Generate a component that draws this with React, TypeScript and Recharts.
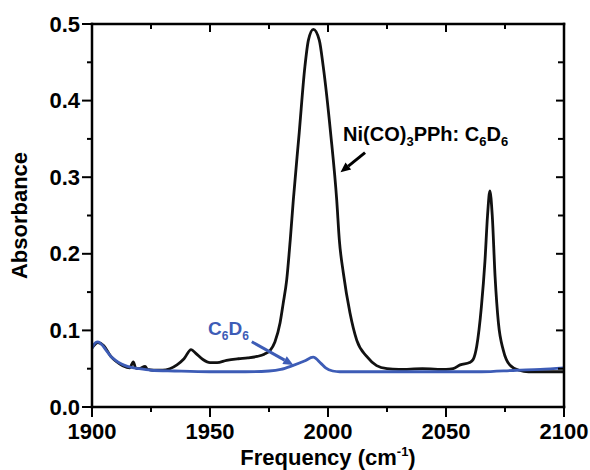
import React from 'react';
import { LineChart, Line, XAxis, YAxis, ReferenceDot, ReferenceLine } from 'recharts';

const FONT = '"Liberation Sans", Arial, Helvetica, sans-serif';
const BLUE = '#3d5cb6';
const BLACK = '#111111';

const xTicks = [1900, 1925, 1950, 1975, 2000, 2025, 2050, 2075, 2100];
const yTicks = [0, 0.05, 0.1, 0.15, 0.2, 0.25, 0.3, 0.35, 0.4, 0.45, 0.5];

const blackFreq = [
  1900, 1902.5, 1905, 1908, 1910, 1913, 1916, 1917.5, 1918.5, 1920, 1922.5, 1923.5, 1926, 1930,
  1933, 1936, 1939, 1942, 1944, 1947, 1950, 1953, 1957, 1962, 1966, 1970, 1973, 1975.5, 1977.5,
  1979.7, 1981, 1982.5, 1984, 1985.3, 1987.8, 1990.2, 1991.7, 1993.8, 1996.3, 1998, 2001.1,
  2003.7, 2004.8, 2006.5, 2009.3, 2012.2, 2016.4, 2020.6, 2025, 2030, 2040, 2050, 2053, 2056,
  2060, 2061.5, 2063, 2065, 2066.5, 2067.6, 2068.6, 2069.6, 2070.8, 2072.2, 2074.3, 2077, 2081,
  2085, 2100,
];
const blackAbs = [
  0.077, 0.084, 0.08, 0.066, 0.06, 0.054, 0.051, 0.059, 0.051, 0.05, 0.053, 0.049, 0.048, 0.048,
  0.05, 0.055, 0.063, 0.075, 0.07, 0.062, 0.058, 0.058, 0.061, 0.063, 0.064, 0.066, 0.069, 0.074,
  0.085, 0.11, 0.135, 0.166, 0.218, 0.27, 0.358, 0.444, 0.479, 0.493, 0.479, 0.444, 0.358, 0.27,
  0.218, 0.175, 0.123, 0.087, 0.066, 0.054, 0.05, 0.049, 0.05, 0.049, 0.05, 0.055, 0.058, 0.062,
  0.079, 0.131, 0.19, 0.25, 0.282, 0.25, 0.17, 0.11, 0.074, 0.055, 0.048, 0.046, 0.046,
];

const blueFreq = [
  1900, 1901.5, 1902.5, 1904, 1906, 1908, 1910, 1912.5, 1915, 1920, 1925, 1935, 1950, 1965, 1975,
  1980, 1985, 1990, 1993.7, 1997, 1999, 2002, 2005, 2015, 2030, 2050, 2065, 2080, 2090, 2100,
];
const blueAbs = [
  0.077, 0.084, 0.085, 0.082, 0.074, 0.066, 0.061, 0.056, 0.053, 0.05, 0.048, 0.047, 0.046, 0.046,
  0.047, 0.049, 0.054, 0.06, 0.065, 0.057, 0.051, 0.047, 0.046, 0.046, 0.046, 0.046, 0.046, 0.048,
  0.049, 0.051,
];

// annotation anchors in data coordinates
const niLabelPos = { x: 2006.4, y: 0.3477 };
const niArrow = [{ x: 2015.7, y: 0.332 }, { x: 2005.3, y: 0.3064 }];
const c6LabelPos = { x: 1949.2, y: 0.094 };
const c6Arrow = [{ x: 1967.7, y: 0.0852 }, { x: 1985.3, y: 0.0548 }];

const blackData = blackFreq.map((x, i) => ({ x, y: blackAbs[i] }));
const blueData = blueFreq.map((x, i) => ({ x, y: blueAbs[i] }));

const isMajorX = (v: number) => Math.abs(v % 50) < 1e-6;
const isMajorY = (v: number) => Math.round(v * 100) % 10 === 0;

const BottomTick = (p: any) => {
  const { x, y, payload } = p;
  const v = payload.value;
  const major = isMajorX(v);
  return (
    <g>
      <line x1={x} x2={x} y1={y} y2={y + (major ? 10 : 5)} stroke="#000" strokeWidth={2} />
      {major && (
        <text x={x} y={y + 32} textAnchor="middle" fontSize={22} fontWeight="bold" fontFamily={FONT} fill="#000">
          {v}
        </text>
      )}
    </g>
  );
};

const TopTick = (p: any) => {
  const { x, y, payload } = p;
  const major = isMajorX(payload.value);
  return <line x1={x} x2={x} y1={y} y2={y + (major ? 8 : 5)} stroke="#000" strokeWidth={2} />;
};

const LeftTick = (p: any) => {
  const { x, y, payload } = p;
  const v = payload.value;
  const major = isMajorY(v);
  return (
    <g>
      <line x1={x} x2={x - (major ? 10 : 5)} y1={y} y2={y} stroke="#000" strokeWidth={2} />
      {major && (
        <text x={x - 12} y={y} textAnchor="end" dominantBaseline="central" fontSize={22} fontWeight="bold" fontFamily={FONT} fill="#000">
          {v.toFixed(1)}
        </text>
      )}
    </g>
  );
};

const RightTick = (p: any) => {
  const { x, y, payload } = p;
  const major = isMajorY(payload.value);
  return <line x1={x} x2={x - (major ? 8 : 6)} y1={y} y2={y} stroke="#000" strokeWidth={2} />;
};

const Arrow = (color: string, width: number) => (p: any) => {
  const { x1, y1, x2, y2 } = p;
  const dx = x2 - x1;
  const dy = y2 - y1;
  const len = Math.sqrt(dx * dx + dy * dy) || 1;
  const ux = dx / len;
  const uy = dy / len;
  const hl = 10;
  const hw = 4.5;
  const bx = x2 - ux * hl;
  const by = y2 - uy * hl;
  const pts = `${x2},${y2} ${bx - uy * hw},${by + ux * hw} ${bx + uy * hw},${by - ux * hw}`;
  return (
    <g>
      <line x1={x1} y1={y1} x2={bx} y2={by} stroke={color} strokeWidth={width} />
      <polygon points={pts} fill={color} />
    </g>
  );
};

const NiLabel = (p: any) => (
  <text x={p.cx} y={p.cy} fontSize={20} fontWeight="bold" fontFamily={FONT} fill="#000">
    Ni(CO)
    <tspan fontSize={13} dy={5}>3</tspan>
    <tspan dy={-5}>PPh: C</tspan>
    <tspan fontSize={13} dy={5}>6</tspan>
    <tspan dy={-5}>D</tspan>
    <tspan fontSize={13} dy={5}>6</tspan>
  </text>
);

const C6Label = (p: any) => (
  <text x={p.cx} y={p.cy} fontSize={19} fontWeight="bold" fontFamily={FONT} fill={BLUE}>
    C
    <tspan fontSize={12} dy={5}>6</tspan>
    <tspan dy={-5}>D</tspan>
    <tspan fontSize={12} dy={5}>6</tspan>
  </text>
);

const XTitle = (p: any) => {
  const vb = p.viewBox || {};
  const cx = vb.x + vb.width / 2;
  return (
    <text x={cx} y={vb.y + 58} textAnchor="middle" fontSize={22} fontWeight="bold" fontFamily={FONT} fill="#000">
      Frequency (cm
      <tspan fontSize={13} dy={-9}>-1</tspan>
      <tspan dy={9}>)</tspan>
    </text>
  );
};

const YTitle = (p: any) => {
  const vb = p.viewBox || {};
  const cy = vb.y + vb.height / 2;
  const cx = 19;
  return (
    <text
      x={cx}
      y={cy}
      transform={`rotate(-90, ${cx}, ${cy})`}
      textAnchor="middle"
      dominantBaseline="central"
      fontSize={22}
      fontWeight="bold"
      fontFamily={FONT}
      fill="#000"
    >
      Absorbance
    </text>
  );
};

const axisLine = { stroke: '#000', strokeWidth: 2.5, strokeLinecap: 'square' as const };

export default function App() {
  return (
    <div style={{ width: 590, height: 470, background: '#fff' }}>
      <style>{'body{margin:0;background:#fff}'}</style>
      <LineChart width={590} height={470} margin={{ top: 0, right: 0, bottom: 0, left: 0 }}>
        <XAxis
          xAxisId="b"
          dataKey="x"
          type="number"
          domain={[1900, 2100]}
          ticks={xTicks}
          interval={0}
          height={63}
          tickSize={0}
          tickMargin={0}
          tickLine={false}
          axisLine={axisLine}
          tick={BottomTick}
          label={{ content: XTitle }}
          allowDataOverflow
        />
        <XAxis
          xAxisId="t"
          orientation="top"
          dataKey="x"
          type="number"
          domain={[1900, 2100]}
          ticks={xTicks}
          interval={0}
          height={24}
          tickSize={0}
          tickMargin={0}
          tickLine={false}
          axisLine={axisLine}
          tick={TopTick}
          allowDataOverflow
        />
        <YAxis
          yAxisId="l"
          type="number"
          domain={[0, 0.5]}
          ticks={yTicks}
          interval={0}
          width={92}
          tickSize={0}
          tickMargin={0}
          tickLine={false}
          axisLine={axisLine}
          tick={LeftTick}
          label={{ content: YTitle }}
          allowDataOverflow
        />
        <YAxis
          yAxisId="r"
          orientation="right"
          type="number"
          domain={[0, 0.5]}
          ticks={yTicks}
          interval={0}
          width={26}
          tickSize={0}
          tickMargin={0}
          tickLine={false}
          axisLine={axisLine}
          tick={RightTick}
          allowDataOverflow
        />
        <Line
          xAxisId="b"
          yAxisId="l"
          data={blackData}
          dataKey="y"
          type="monotone"
          stroke={BLACK}
          strokeWidth={2.8}
          dot={false}
          activeDot={false}
          isAnimationActive={false}
        />
        <Line
          xAxisId="b"
          yAxisId="l"
          data={blueData}
          dataKey="y"
          type="monotone"
          stroke={BLUE}
          strokeWidth={2.8}
          dot={false}
          activeDot={false}
          isAnimationActive={false}
        />
        <ReferenceLine xAxisId="b" yAxisId="l" segment={niArrow} shape={Arrow('#000', 3)} />
        <ReferenceLine xAxisId="b" yAxisId="l" segment={c6Arrow} shape={Arrow(BLUE, 3)} />
        <ReferenceDot xAxisId="b" yAxisId="l" x={niLabelPos.x} y={niLabelPos.y} r={0} shape={NiLabel} />
        <ReferenceDot xAxisId="b" yAxisId="l" x={c6LabelPos.x} y={c6LabelPos.y} r={0} shape={C6Label} />
      </LineChart>
    </div>
  );
}
